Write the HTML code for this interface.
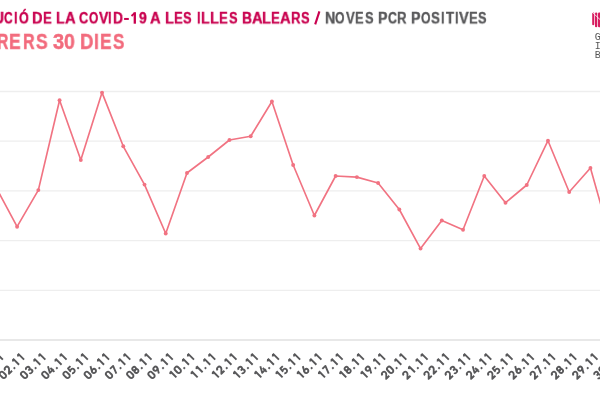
<!DOCTYPE html>
<html><head><meta charset="utf-8"><style>
html,body{margin:0;padding:0;background:#fff;width:600px;height:400px;overflow:hidden;position:relative}
span{position:absolute;white-space:pre;font-family:"Liberation Sans",sans-serif;font-weight:bold;line-height:1;transform-origin:0 0;will-change:transform}
.lab path,.lab circle{fill:none;stroke:#58585a;stroke-width:1.8px;stroke-linecap:butt;stroke-linejoin:round}
.gib{position:absolute;font-family:"Liberation Mono",monospace;font-size:10px;line-height:9px;color:#555}
</style></head><body>
<span style="left:-7.41px;top:11.37px;font-size:16px;color:#c9004f;transform:scale(0.9579,0.955);-webkit-text-stroke:0.4px #c9004f">U</span>
<span style="left:4.29px;top:11.37px;font-size:16px;color:#c9004f;transform:scale(0.7512,0.955);-webkit-text-stroke:0.4px #c9004f">C</span>
<span style="left:14.24px;top:11.37px;font-size:16px;color:#c9004f;transform:scale(0.7800,0.955);-webkit-text-stroke:0.4px #c9004f">I</span>
<span style="left:18.66px;top:11.37px;font-size:16px;color:#c9004f;transform:scale(0.7818,0.955);-webkit-text-stroke:0.4px #c9004f">Ó</span>
<span style="left:32.39px;top:11.37px;font-size:16px;color:#c9004f;transform:scale(0.9128,0.955);-webkit-text-stroke:0.4px #c9004f">D</span>
<span style="left:43.23px;top:11.37px;font-size:16px;color:#c9004f;transform:scale(0.8222,0.955);-webkit-text-stroke:0.4px #c9004f">E</span>
<span style="left:56.18px;top:11.37px;font-size:16px;color:#c9004f;transform:scale(0.8667,0.955);-webkit-text-stroke:0.4px #c9004f">L</span>
<span style="left:64.59px;top:11.37px;font-size:16px;color:#c9004f;transform:scale(0.9190,0.955);-webkit-text-stroke:0.4px #c9004f">A</span>
<span style="left:78.95px;top:11.37px;font-size:16px;color:#c9004f;transform:scale(0.7951,0.955);-webkit-text-stroke:0.4px #c9004f">C</span>
<span style="left:88.99px;top:11.37px;font-size:16px;color:#c9004f;transform:scale(0.7409,0.955);-webkit-text-stroke:0.4px #c9004f">O</span>
<span style="left:98.58px;top:11.37px;font-size:16px;color:#c9004f;transform:scale(0.8683,0.955);-webkit-text-stroke:0.4px #c9004f">V</span>
<span style="left:108.47px;top:11.37px;font-size:16px;color:#c9004f;transform:scale(0.7800,0.955);-webkit-text-stroke:0.4px #c9004f">I</span>
<span style="left:113.19px;top:11.37px;font-size:16px;color:#c9004f;transform:scale(0.8615,0.955);-webkit-text-stroke:0.4px #c9004f">D</span>
<span style="left:138.82px;top:11.37px;font-size:16px;color:#c9004f;transform:scale(0.8645,0.955);-webkit-text-stroke:0.4px #c9004f">9</span>
<span style="left:150.34px;top:11.37px;font-size:16px;color:#c9004f;transform:scale(0.9190,0.955);-webkit-text-stroke:0.4px #c9004f">A</span>
<span style="left:164.65px;top:11.37px;font-size:16px;color:#c9004f;transform:scale(0.8970,0.955);-webkit-text-stroke:0.4px #c9004f">L</span>
<span style="left:173.98px;top:11.37px;font-size:16px;color:#c9004f;transform:scale(0.8222,0.955);-webkit-text-stroke:0.4px #c9004f">E</span>
<span style="left:183.40px;top:11.37px;font-size:16px;color:#c9004f;transform:scale(0.8053,0.955);-webkit-text-stroke:0.4px #c9004f">S</span>
<span style="left:196.72px;top:11.37px;font-size:16px;color:#c9004f;transform:scale(0.7800,0.955);-webkit-text-stroke:0.4px #c9004f">I</span>
<span style="left:201.18px;top:11.37px;font-size:16px;color:#c9004f;transform:scale(0.8667,0.955);-webkit-text-stroke:0.4px #c9004f">L</span>
<span style="left:210.15px;top:11.37px;font-size:16px;color:#c9004f;transform:scale(0.8970,0.955);-webkit-text-stroke:0.4px #c9004f">L</span>
<span style="left:219.48px;top:11.37px;font-size:16px;color:#c9004f;transform:scale(0.8222,0.955);-webkit-text-stroke:0.4px #c9004f">E</span>
<span style="left:228.90px;top:11.37px;font-size:16px;color:#c9004f;transform:scale(0.8053,0.955);-webkit-text-stroke:0.4px #c9004f">S</span>
<span style="left:241.94px;top:11.37px;font-size:16px;color:#c9004f;transform:scale(0.8615,0.955);-webkit-text-stroke:0.4px #c9004f">B</span>
<span style="left:251.59px;top:11.37px;font-size:16px;color:#c9004f;transform:scale(0.9190,0.955);-webkit-text-stroke:0.4px #c9004f">A</span>
<span style="left:262.40px;top:11.37px;font-size:16px;color:#c9004f;transform:scale(0.8970,0.955);-webkit-text-stroke:0.4px #c9004f">L</span>
<span style="left:271.48px;top:11.37px;font-size:16px;color:#c9004f;transform:scale(0.8222,0.955);-webkit-text-stroke:0.4px #c9004f">E</span>
<span style="left:280.34px;top:11.37px;font-size:16px;color:#c9004f;transform:scale(0.9190,0.955);-webkit-text-stroke:0.4px #c9004f">A</span>
<span style="left:291.23px;top:11.37px;font-size:16px;color:#c9004f;transform:scale(0.8195,0.955);-webkit-text-stroke:0.4px #c9004f">R</span>
<span style="left:301.40px;top:11.37px;font-size:16px;color:#c9004f;transform:scale(0.8053,0.955);-webkit-text-stroke:0.4px #c9004f">S</span>
<span style="left:324.67px;top:11.37px;font-size:16px;color:#58585a;transform:scale(0.8842,0.955);-webkit-text-stroke:0.4px #58585a">N</span>
<span style="left:335.48px;top:11.37px;font-size:16px;color:#58585a;transform:scale(0.7636,0.955);-webkit-text-stroke:0.4px #58585a">O</span>
<span style="left:345.60px;top:11.37px;font-size:16px;color:#58585a;transform:scale(0.8195,0.955);-webkit-text-stroke:0.4px #58585a">V</span>
<span style="left:355.26px;top:11.37px;font-size:16px;color:#58585a;transform:scale(0.7944,0.955);-webkit-text-stroke:0.4px #58585a">E</span>
<span style="left:364.65px;top:11.37px;font-size:16px;color:#58585a;transform:scale(0.8053,0.955);-webkit-text-stroke:0.4px #58585a">S</span>
<span style="left:377.67px;top:11.37px;font-size:16px;color:#58585a;transform:scale(0.8778,0.955);-webkit-text-stroke:0.4px #58585a">P</span>
<span style="left:387.72px;top:11.37px;font-size:16px;color:#58585a;transform:scale(0.7707,0.955);-webkit-text-stroke:0.4px #58585a">C</span>
<span style="left:397.48px;top:11.37px;font-size:16px;color:#58585a;transform:scale(0.8195,0.955);-webkit-text-stroke:0.4px #58585a">R</span>
<span style="left:411.42px;top:11.37px;font-size:16px;color:#58585a;transform:scale(0.8778,0.955);-webkit-text-stroke:0.4px #58585a">P</span>
<span style="left:421.48px;top:11.37px;font-size:16px;color:#58585a;transform:scale(0.7636,0.955);-webkit-text-stroke:0.4px #58585a">O</span>
<span style="left:431.38px;top:11.37px;font-size:16px;color:#58585a;transform:scale(0.8316,0.955);-webkit-text-stroke:0.4px #58585a">S</span>
<span style="left:441.34px;top:11.37px;font-size:16px;color:#58585a;transform:scale(0.7800,0.955);-webkit-text-stroke:0.4px #58585a">I</span>
<span style="left:445.59px;top:11.37px;font-size:16px;color:#58585a;transform:scale(0.8270,0.955);-webkit-text-stroke:0.4px #58585a">T</span>
<span style="left:454.94px;top:11.37px;font-size:16px;color:#58585a;transform:scale(0.7800,0.955);-webkit-text-stroke:0.4px #58585a">I</span>
<span style="left:458.62px;top:11.37px;font-size:16px;color:#58585a;transform:scale(0.9073,0.955);-webkit-text-stroke:0.4px #58585a">V</span>
<span style="left:468.84px;top:11.37px;font-size:16px;color:#58585a;transform:scale(0.8111,0.955);-webkit-text-stroke:0.4px #58585a">E</span>
<span style="left:478.36px;top:11.37px;font-size:16px;color:#58585a;transform:scale(0.7895,0.955);-webkit-text-stroke:0.4px #58585a">S</span>
<span style="left:-2.89px;top:30.77px;font-size:20px;color:#f26b7d;transform:scale(0.7922,1.08);-webkit-text-stroke:0.4px #f26b7d">R</span>
<span style="left:9.41px;top:30.77px;font-size:20px;color:#f26b7d;transform:scale(0.8711,1.08);-webkit-text-stroke:0.4px #f26b7d">E</span>
<span style="left:22.85px;top:30.77px;font-size:20px;color:#f26b7d;transform:scale(0.8039,1.08);-webkit-text-stroke:0.4px #f26b7d">R</span>
<span style="left:35.70px;top:30.77px;font-size:20px;color:#f26b7d;transform:scale(0.8723,1.08);-webkit-text-stroke:0.4px #f26b7d">S</span>
<span style="left:52.60px;top:30.77px;font-size:20px;color:#f26b7d;transform:scale(1.0000,1.08);-webkit-text-stroke:0.4px #f26b7d">3</span>
<span style="left:64.17px;top:30.77px;font-size:20px;color:#f26b7d;transform:scale(0.9684,1.08);-webkit-text-stroke:0.4px #f26b7d">0</span>
<span style="left:79.94px;top:30.77px;font-size:20px;color:#f26b7d;transform:scale(0.9306,1.08);-webkit-text-stroke:0.4px #f26b7d">D</span>
<span style="left:94.11px;top:30.77px;font-size:20px;color:#f26b7d;transform:scale(0.8500,1.08);-webkit-text-stroke:0.4px #f26b7d">I</span>
<span style="left:100.32px;top:30.77px;font-size:20px;color:#f26b7d;transform:scale(0.8622,1.08);-webkit-text-stroke:0.4px #f26b7d">E</span>
<span style="left:112.56px;top:30.77px;font-size:20px;color:#f26b7d;transform:scale(0.8511,1.08);-webkit-text-stroke:0.4px #f26b7d">S</span>

<svg style="position:absolute;left:0;top:0" width="600" height="400">
<line x1="0" x2="600" y1="91.5" y2="91.5" stroke="#eeeeee" stroke-width="1.3"/>
<line x1="0" x2="600" y1="141.2" y2="141.2" stroke="#eeeeee" stroke-width="1.3"/>
<line x1="0" x2="600" y1="190.9" y2="190.9" stroke="#eeeeee" stroke-width="1.3"/>
<line x1="0" x2="600" y1="240.6" y2="240.6" stroke="#eeeeee" stroke-width="1.3"/>
<line x1="0" x2="600" y1="290.3" y2="290.3" stroke="#eeeeee" stroke-width="1.3"/>
<line x1="0" x2="600" y1="340" y2="340" stroke="#e0e0e0" stroke-width="1.6"/>
<polyline points="-4.13,187 17.10,226.7 38.34,190.1 59.57,100.3 80.81,160 102.04,92.6 123.28,146.3 144.51,184.6 165.74,233.5 186.98,173 208.22,157 229.45,140 250.68,136.3 271.92,101.5 293.16,165 314.39,215.5 335.62,176 356.86,177.1 378.10,183 399.33,209.5 420.56,248.6 441.80,220.5 463.04,229.7 484.27,176 505.50,202.7 526.74,185 547.98,140.7 569.21,192 590.45,168 611.68,243" fill="none" stroke="#f17382" stroke-width="1.65" stroke-linejoin="round"/>
<circle cx="-4.13" cy="187" r="1.95" fill="#f17382"/>
<circle cx="17.10" cy="226.7" r="1.95" fill="#f17382"/>
<circle cx="38.34" cy="190.1" r="1.95" fill="#f17382"/>
<circle cx="59.57" cy="100.3" r="1.95" fill="#f17382"/>
<circle cx="80.81" cy="160" r="1.95" fill="#f17382"/>
<circle cx="102.04" cy="92.6" r="1.95" fill="#f17382"/>
<circle cx="123.28" cy="146.3" r="1.95" fill="#f17382"/>
<circle cx="144.51" cy="184.6" r="1.95" fill="#f17382"/>
<circle cx="165.74" cy="233.5" r="1.95" fill="#f17382"/>
<circle cx="186.98" cy="173" r="1.95" fill="#f17382"/>
<circle cx="208.22" cy="157" r="1.95" fill="#f17382"/>
<circle cx="229.45" cy="140" r="1.95" fill="#f17382"/>
<circle cx="250.68" cy="136.3" r="1.95" fill="#f17382"/>
<circle cx="271.92" cy="101.5" r="1.95" fill="#f17382"/>
<circle cx="293.16" cy="165" r="1.95" fill="#f17382"/>
<circle cx="314.39" cy="215.5" r="1.95" fill="#f17382"/>
<circle cx="335.62" cy="176" r="1.95" fill="#f17382"/>
<circle cx="356.86" cy="177.1" r="1.95" fill="#f17382"/>
<circle cx="378.10" cy="183" r="1.95" fill="#f17382"/>
<circle cx="399.33" cy="209.5" r="1.95" fill="#f17382"/>
<circle cx="420.56" cy="248.6" r="1.95" fill="#f17382"/>
<circle cx="441.80" cy="220.5" r="1.95" fill="#f17382"/>
<circle cx="463.04" cy="229.7" r="1.95" fill="#f17382"/>
<circle cx="484.27" cy="176" r="1.95" fill="#f17382"/>
<circle cx="505.50" cy="202.7" r="1.95" fill="#f17382"/>
<circle cx="526.74" cy="185" r="1.95" fill="#f17382"/>
<circle cx="547.98" cy="140.7" r="1.95" fill="#f17382"/>
<circle cx="569.21" cy="192" r="1.95" fill="#f17382"/>
<circle cx="590.45" cy="168" r="1.95" fill="#f17382"/>
<circle cx="611.68" cy="243" r="1.95" fill="#f17382"/>
<g class="lab" transform="translate(2.87 359.70) rotate(-45) scale(1.0) translate(-29.35 0)"><g transform="translate(0.00 0) scale(1.06 1)"><path d="M1.4,-5.8 A2.0,2.0 0 0 1 5.4,-5.8 L5.4,-2.7 A2.0,2.0 0 0 1 1.4,-2.7 Z"/></g><g transform="translate(7.10 0) scale(1.06 1)"><path d="M2.2,-6.6 L4.0,-8.2 M4.2,-8.6 L4.2,0"/></g><rect x="15.60" y="-1.9" width="1.9" height="1.9" fill="#58585a" stroke="none"/><g transform="translate(17.80 0) scale(1.06 1)"><path d="M2.2,-6.6 L4.0,-8.2 M4.2,-8.6 L4.2,0"/></g><g transform="translate(24.90 0) scale(1.06 1)"><path d="M2.2,-6.6 L4.0,-8.2 M4.2,-8.6 L4.2,0"/></g></g>
<g class="lab" transform="translate(24.10 359.70) rotate(-45) scale(1.0) translate(-29.35 0)"><g transform="translate(0.00 0) scale(1.06 1)"><path d="M1.4,-5.8 A2.0,2.0 0 0 1 5.4,-5.8 L5.4,-2.7 A2.0,2.0 0 0 1 1.4,-2.7 Z"/></g><g transform="translate(7.10 0) scale(1.06 1)"><path d="M1.4,-5.8 A2.0,2.0 0 0 1 5.4,-5.8 Q5.4,-4.9 4.7,-4.0 L1.5,-0.7 L5.6,-0.7"/></g><rect x="15.60" y="-1.9" width="1.9" height="1.9" fill="#58585a" stroke="none"/><g transform="translate(17.80 0) scale(1.06 1)"><path d="M2.2,-6.6 L4.0,-8.2 M4.2,-8.6 L4.2,0"/></g><g transform="translate(24.90 0) scale(1.06 1)"><path d="M2.2,-6.6 L4.0,-8.2 M4.2,-8.6 L4.2,0"/></g></g>
<g class="lab" transform="translate(45.34 359.70) rotate(-45) scale(1.0) translate(-29.35 0)"><g transform="translate(0.00 0) scale(1.06 1)"><path d="M1.4,-5.8 A2.0,2.0 0 0 1 5.4,-5.8 L5.4,-2.7 A2.0,2.0 0 0 1 1.4,-2.7 Z"/></g><g transform="translate(7.10 0) scale(1.06 1)"><path d="M1.6,-6.4 A1.8,1.75 0 1 1 3.2,-4.35 A1.95,1.95 0 1 1 1.4,-1.9"/></g><rect x="15.60" y="-1.9" width="1.9" height="1.9" fill="#58585a" stroke="none"/><g transform="translate(17.80 0) scale(1.06 1)"><path d="M2.2,-6.6 L4.0,-8.2 M4.2,-8.6 L4.2,0"/></g><g transform="translate(24.90 0) scale(1.06 1)"><path d="M2.2,-6.6 L4.0,-8.2 M4.2,-8.6 L4.2,0"/></g></g>
<g class="lab" transform="translate(66.57 359.70) rotate(-45) scale(1.0) translate(-29.35 0)"><g transform="translate(0.00 0) scale(1.06 1)"><path d="M1.4,-5.8 A2.0,2.0 0 0 1 5.4,-5.8 L5.4,-2.7 A2.0,2.0 0 0 1 1.4,-2.7 Z"/></g><g transform="translate(7.10 0) scale(1.06 1)"><path d="M4.2,-8.5 L1.1,-2.6 L6.0,-2.6 M4.7,-5.6 L4.7,0"/></g><rect x="15.60" y="-1.9" width="1.9" height="1.9" fill="#58585a" stroke="none"/><g transform="translate(17.80 0) scale(1.06 1)"><path d="M2.2,-6.6 L4.0,-8.2 M4.2,-8.6 L4.2,0"/></g><g transform="translate(24.90 0) scale(1.06 1)"><path d="M2.2,-6.6 L4.0,-8.2 M4.2,-8.6 L4.2,0"/></g></g>
<g class="lab" transform="translate(87.81 359.70) rotate(-45) scale(1.0) translate(-29.35 0)"><g transform="translate(0.00 0) scale(1.06 1)"><path d="M1.4,-5.8 A2.0,2.0 0 0 1 5.4,-5.8 L5.4,-2.7 A2.0,2.0 0 0 1 1.4,-2.7 Z"/></g><g transform="translate(7.10 0) scale(1.06 1)"><path d="M5.2,-7.8 L1.9,-7.8 L1.6,-4.3 Q2.4,-5.0 3.4,-5.0 A1.95,2.15 0 0 1 3.4,-0.7 Q2.1,-0.7 1.4,-1.6"/></g><rect x="15.60" y="-1.9" width="1.9" height="1.9" fill="#58585a" stroke="none"/><g transform="translate(17.80 0) scale(1.06 1)"><path d="M2.2,-6.6 L4.0,-8.2 M4.2,-8.6 L4.2,0"/></g><g transform="translate(24.90 0) scale(1.06 1)"><path d="M2.2,-6.6 L4.0,-8.2 M4.2,-8.6 L4.2,0"/></g></g>
<g class="lab" transform="translate(109.04 359.70) rotate(-45) scale(1.0) translate(-29.35 0)"><g transform="translate(0.00 0) scale(1.06 1)"><path d="M1.4,-5.8 A2.0,2.0 0 0 1 5.4,-5.8 L5.4,-2.7 A2.0,2.0 0 0 1 1.4,-2.7 Z"/></g><g transform="translate(7.10 0) scale(1.06 1)"><path d="M4.3,-8.6 L1.7,-3.6"/><circle cx="3.4" cy="-2.7" r="2.0"/></g><rect x="15.60" y="-1.9" width="1.9" height="1.9" fill="#58585a" stroke="none"/><g transform="translate(17.80 0) scale(1.06 1)"><path d="M2.2,-6.6 L4.0,-8.2 M4.2,-8.6 L4.2,0"/></g><g transform="translate(24.90 0) scale(1.06 1)"><path d="M2.2,-6.6 L4.0,-8.2 M4.2,-8.6 L4.2,0"/></g></g>
<g class="lab" transform="translate(130.28 359.70) rotate(-45) scale(1.0) translate(-29.35 0)"><g transform="translate(0.00 0) scale(1.06 1)"><path d="M1.4,-5.8 A2.0,2.0 0 0 1 5.4,-5.8 L5.4,-2.7 A2.0,2.0 0 0 1 1.4,-2.7 Z"/></g><g transform="translate(7.10 0) scale(1.06 1)"><path d="M1.3,-7.8 L5.4,-7.8 L2.4,0"/></g><rect x="15.60" y="-1.9" width="1.9" height="1.9" fill="#58585a" stroke="none"/><g transform="translate(17.80 0) scale(1.06 1)"><path d="M2.2,-6.6 L4.0,-8.2 M4.2,-8.6 L4.2,0"/></g><g transform="translate(24.90 0) scale(1.06 1)"><path d="M2.2,-6.6 L4.0,-8.2 M4.2,-8.6 L4.2,0"/></g></g>
<g class="lab" transform="translate(151.51 359.70) rotate(-45) scale(1.0) translate(-29.35 0)"><g transform="translate(0.00 0) scale(1.06 1)"><path d="M1.4,-5.8 A2.0,2.0 0 0 1 5.4,-5.8 L5.4,-2.7 A2.0,2.0 0 0 1 1.4,-2.7 Z"/></g><g transform="translate(7.10 0) scale(1.06 1)"><circle cx="3.4" cy="-5.95" r="1.75"/><circle cx="3.4" cy="-2.55" r="1.85"/></g><rect x="15.60" y="-1.9" width="1.9" height="1.9" fill="#58585a" stroke="none"/><g transform="translate(17.80 0) scale(1.06 1)"><path d="M2.2,-6.6 L4.0,-8.2 M4.2,-8.6 L4.2,0"/></g><g transform="translate(24.90 0) scale(1.06 1)"><path d="M2.2,-6.6 L4.0,-8.2 M4.2,-8.6 L4.2,0"/></g></g>
<g class="lab" transform="translate(172.74 359.70) rotate(-45) scale(1.0) translate(-29.35 0)"><g transform="translate(0.00 0) scale(1.06 1)"><path d="M1.4,-5.8 A2.0,2.0 0 0 1 5.4,-5.8 L5.4,-2.7 A2.0,2.0 0 0 1 1.4,-2.7 Z"/></g><g transform="translate(7.10 0) scale(1.06 1)"><circle cx="3.4" cy="-5.8" r="2.0"/><path d="M5.1,-4.8 L2.5,0"/></g><rect x="15.60" y="-1.9" width="1.9" height="1.9" fill="#58585a" stroke="none"/><g transform="translate(17.80 0) scale(1.06 1)"><path d="M2.2,-6.6 L4.0,-8.2 M4.2,-8.6 L4.2,0"/></g><g transform="translate(24.90 0) scale(1.06 1)"><path d="M2.2,-6.6 L4.0,-8.2 M4.2,-8.6 L4.2,0"/></g></g>
<g class="lab" transform="translate(193.98 359.70) rotate(-45) scale(1.0) translate(-29.35 0)"><g transform="translate(0.00 0) scale(1.06 1)"><path d="M2.2,-6.6 L4.0,-8.2 M4.2,-8.6 L4.2,0"/></g><g transform="translate(7.10 0) scale(1.06 1)"><path d="M1.4,-5.8 A2.0,2.0 0 0 1 5.4,-5.8 L5.4,-2.7 A2.0,2.0 0 0 1 1.4,-2.7 Z"/></g><rect x="15.60" y="-1.9" width="1.9" height="1.9" fill="#58585a" stroke="none"/><g transform="translate(17.80 0) scale(1.06 1)"><path d="M2.2,-6.6 L4.0,-8.2 M4.2,-8.6 L4.2,0"/></g><g transform="translate(24.90 0) scale(1.06 1)"><path d="M2.2,-6.6 L4.0,-8.2 M4.2,-8.6 L4.2,0"/></g></g>
<g class="lab" transform="translate(215.22 359.70) rotate(-45) scale(1.0) translate(-29.35 0)"><g transform="translate(0.00 0) scale(1.06 1)"><path d="M2.2,-6.6 L4.0,-8.2 M4.2,-8.6 L4.2,0"/></g><g transform="translate(7.10 0) scale(1.06 1)"><path d="M2.2,-6.6 L4.0,-8.2 M4.2,-8.6 L4.2,0"/></g><rect x="15.60" y="-1.9" width="1.9" height="1.9" fill="#58585a" stroke="none"/><g transform="translate(17.80 0) scale(1.06 1)"><path d="M2.2,-6.6 L4.0,-8.2 M4.2,-8.6 L4.2,0"/></g><g transform="translate(24.90 0) scale(1.06 1)"><path d="M2.2,-6.6 L4.0,-8.2 M4.2,-8.6 L4.2,0"/></g></g>
<g class="lab" transform="translate(236.45 359.70) rotate(-45) scale(1.0) translate(-29.35 0)"><g transform="translate(0.00 0) scale(1.06 1)"><path d="M2.2,-6.6 L4.0,-8.2 M4.2,-8.6 L4.2,0"/></g><g transform="translate(7.10 0) scale(1.06 1)"><path d="M1.4,-5.8 A2.0,2.0 0 0 1 5.4,-5.8 Q5.4,-4.9 4.7,-4.0 L1.5,-0.7 L5.6,-0.7"/></g><rect x="15.60" y="-1.9" width="1.9" height="1.9" fill="#58585a" stroke="none"/><g transform="translate(17.80 0) scale(1.06 1)"><path d="M2.2,-6.6 L4.0,-8.2 M4.2,-8.6 L4.2,0"/></g><g transform="translate(24.90 0) scale(1.06 1)"><path d="M2.2,-6.6 L4.0,-8.2 M4.2,-8.6 L4.2,0"/></g></g>
<g class="lab" transform="translate(257.68 359.70) rotate(-45) scale(1.0) translate(-29.35 0)"><g transform="translate(0.00 0) scale(1.06 1)"><path d="M2.2,-6.6 L4.0,-8.2 M4.2,-8.6 L4.2,0"/></g><g transform="translate(7.10 0) scale(1.06 1)"><path d="M1.6,-6.4 A1.8,1.75 0 1 1 3.2,-4.35 A1.95,1.95 0 1 1 1.4,-1.9"/></g><rect x="15.60" y="-1.9" width="1.9" height="1.9" fill="#58585a" stroke="none"/><g transform="translate(17.80 0) scale(1.06 1)"><path d="M2.2,-6.6 L4.0,-8.2 M4.2,-8.6 L4.2,0"/></g><g transform="translate(24.90 0) scale(1.06 1)"><path d="M2.2,-6.6 L4.0,-8.2 M4.2,-8.6 L4.2,0"/></g></g>
<g class="lab" transform="translate(278.92 359.70) rotate(-45) scale(1.0) translate(-29.35 0)"><g transform="translate(0.00 0) scale(1.06 1)"><path d="M2.2,-6.6 L4.0,-8.2 M4.2,-8.6 L4.2,0"/></g><g transform="translate(7.10 0) scale(1.06 1)"><path d="M4.2,-8.5 L1.1,-2.6 L6.0,-2.6 M4.7,-5.6 L4.7,0"/></g><rect x="15.60" y="-1.9" width="1.9" height="1.9" fill="#58585a" stroke="none"/><g transform="translate(17.80 0) scale(1.06 1)"><path d="M2.2,-6.6 L4.0,-8.2 M4.2,-8.6 L4.2,0"/></g><g transform="translate(24.90 0) scale(1.06 1)"><path d="M2.2,-6.6 L4.0,-8.2 M4.2,-8.6 L4.2,0"/></g></g>
<g class="lab" transform="translate(300.16 359.70) rotate(-45) scale(1.0) translate(-29.35 0)"><g transform="translate(0.00 0) scale(1.06 1)"><path d="M2.2,-6.6 L4.0,-8.2 M4.2,-8.6 L4.2,0"/></g><g transform="translate(7.10 0) scale(1.06 1)"><path d="M5.2,-7.8 L1.9,-7.8 L1.6,-4.3 Q2.4,-5.0 3.4,-5.0 A1.95,2.15 0 0 1 3.4,-0.7 Q2.1,-0.7 1.4,-1.6"/></g><rect x="15.60" y="-1.9" width="1.9" height="1.9" fill="#58585a" stroke="none"/><g transform="translate(17.80 0) scale(1.06 1)"><path d="M2.2,-6.6 L4.0,-8.2 M4.2,-8.6 L4.2,0"/></g><g transform="translate(24.90 0) scale(1.06 1)"><path d="M2.2,-6.6 L4.0,-8.2 M4.2,-8.6 L4.2,0"/></g></g>
<g class="lab" transform="translate(321.39 359.70) rotate(-45) scale(1.0) translate(-29.35 0)"><g transform="translate(0.00 0) scale(1.06 1)"><path d="M2.2,-6.6 L4.0,-8.2 M4.2,-8.6 L4.2,0"/></g><g transform="translate(7.10 0) scale(1.06 1)"><path d="M4.3,-8.6 L1.7,-3.6"/><circle cx="3.4" cy="-2.7" r="2.0"/></g><rect x="15.60" y="-1.9" width="1.9" height="1.9" fill="#58585a" stroke="none"/><g transform="translate(17.80 0) scale(1.06 1)"><path d="M2.2,-6.6 L4.0,-8.2 M4.2,-8.6 L4.2,0"/></g><g transform="translate(24.90 0) scale(1.06 1)"><path d="M2.2,-6.6 L4.0,-8.2 M4.2,-8.6 L4.2,0"/></g></g>
<g class="lab" transform="translate(342.62 359.70) rotate(-45) scale(1.0) translate(-29.35 0)"><g transform="translate(0.00 0) scale(1.06 1)"><path d="M2.2,-6.6 L4.0,-8.2 M4.2,-8.6 L4.2,0"/></g><g transform="translate(7.10 0) scale(1.06 1)"><path d="M1.3,-7.8 L5.4,-7.8 L2.4,0"/></g><rect x="15.60" y="-1.9" width="1.9" height="1.9" fill="#58585a" stroke="none"/><g transform="translate(17.80 0) scale(1.06 1)"><path d="M2.2,-6.6 L4.0,-8.2 M4.2,-8.6 L4.2,0"/></g><g transform="translate(24.90 0) scale(1.06 1)"><path d="M2.2,-6.6 L4.0,-8.2 M4.2,-8.6 L4.2,0"/></g></g>
<g class="lab" transform="translate(363.86 359.70) rotate(-45) scale(1.0) translate(-29.35 0)"><g transform="translate(0.00 0) scale(1.06 1)"><path d="M2.2,-6.6 L4.0,-8.2 M4.2,-8.6 L4.2,0"/></g><g transform="translate(7.10 0) scale(1.06 1)"><circle cx="3.4" cy="-5.95" r="1.75"/><circle cx="3.4" cy="-2.55" r="1.85"/></g><rect x="15.60" y="-1.9" width="1.9" height="1.9" fill="#58585a" stroke="none"/><g transform="translate(17.80 0) scale(1.06 1)"><path d="M2.2,-6.6 L4.0,-8.2 M4.2,-8.6 L4.2,0"/></g><g transform="translate(24.90 0) scale(1.06 1)"><path d="M2.2,-6.6 L4.0,-8.2 M4.2,-8.6 L4.2,0"/></g></g>
<g class="lab" transform="translate(385.10 359.70) rotate(-45) scale(1.0) translate(-29.35 0)"><g transform="translate(0.00 0) scale(1.06 1)"><path d="M2.2,-6.6 L4.0,-8.2 M4.2,-8.6 L4.2,0"/></g><g transform="translate(7.10 0) scale(1.06 1)"><circle cx="3.4" cy="-5.8" r="2.0"/><path d="M5.1,-4.8 L2.5,0"/></g><rect x="15.60" y="-1.9" width="1.9" height="1.9" fill="#58585a" stroke="none"/><g transform="translate(17.80 0) scale(1.06 1)"><path d="M2.2,-6.6 L4.0,-8.2 M4.2,-8.6 L4.2,0"/></g><g transform="translate(24.90 0) scale(1.06 1)"><path d="M2.2,-6.6 L4.0,-8.2 M4.2,-8.6 L4.2,0"/></g></g>
<g class="lab" transform="translate(406.33 359.70) rotate(-45) scale(1.0) translate(-29.35 0)"><g transform="translate(0.00 0) scale(1.06 1)"><path d="M1.4,-5.8 A2.0,2.0 0 0 1 5.4,-5.8 Q5.4,-4.9 4.7,-4.0 L1.5,-0.7 L5.6,-0.7"/></g><g transform="translate(7.10 0) scale(1.06 1)"><path d="M1.4,-5.8 A2.0,2.0 0 0 1 5.4,-5.8 L5.4,-2.7 A2.0,2.0 0 0 1 1.4,-2.7 Z"/></g><rect x="15.60" y="-1.9" width="1.9" height="1.9" fill="#58585a" stroke="none"/><g transform="translate(17.80 0) scale(1.06 1)"><path d="M2.2,-6.6 L4.0,-8.2 M4.2,-8.6 L4.2,0"/></g><g transform="translate(24.90 0) scale(1.06 1)"><path d="M2.2,-6.6 L4.0,-8.2 M4.2,-8.6 L4.2,0"/></g></g>
<g class="lab" transform="translate(427.56 359.70) rotate(-45) scale(1.0) translate(-29.35 0)"><g transform="translate(0.00 0) scale(1.06 1)"><path d="M1.4,-5.8 A2.0,2.0 0 0 1 5.4,-5.8 Q5.4,-4.9 4.7,-4.0 L1.5,-0.7 L5.6,-0.7"/></g><g transform="translate(7.10 0) scale(1.06 1)"><path d="M2.2,-6.6 L4.0,-8.2 M4.2,-8.6 L4.2,0"/></g><rect x="15.60" y="-1.9" width="1.9" height="1.9" fill="#58585a" stroke="none"/><g transform="translate(17.80 0) scale(1.06 1)"><path d="M2.2,-6.6 L4.0,-8.2 M4.2,-8.6 L4.2,0"/></g><g transform="translate(24.90 0) scale(1.06 1)"><path d="M2.2,-6.6 L4.0,-8.2 M4.2,-8.6 L4.2,0"/></g></g>
<g class="lab" transform="translate(448.80 359.70) rotate(-45) scale(1.0) translate(-29.35 0)"><g transform="translate(0.00 0) scale(1.06 1)"><path d="M1.4,-5.8 A2.0,2.0 0 0 1 5.4,-5.8 Q5.4,-4.9 4.7,-4.0 L1.5,-0.7 L5.6,-0.7"/></g><g transform="translate(7.10 0) scale(1.06 1)"><path d="M1.4,-5.8 A2.0,2.0 0 0 1 5.4,-5.8 Q5.4,-4.9 4.7,-4.0 L1.5,-0.7 L5.6,-0.7"/></g><rect x="15.60" y="-1.9" width="1.9" height="1.9" fill="#58585a" stroke="none"/><g transform="translate(17.80 0) scale(1.06 1)"><path d="M2.2,-6.6 L4.0,-8.2 M4.2,-8.6 L4.2,0"/></g><g transform="translate(24.90 0) scale(1.06 1)"><path d="M2.2,-6.6 L4.0,-8.2 M4.2,-8.6 L4.2,0"/></g></g>
<g class="lab" transform="translate(470.04 359.70) rotate(-45) scale(1.0) translate(-29.35 0)"><g transform="translate(0.00 0) scale(1.06 1)"><path d="M1.4,-5.8 A2.0,2.0 0 0 1 5.4,-5.8 Q5.4,-4.9 4.7,-4.0 L1.5,-0.7 L5.6,-0.7"/></g><g transform="translate(7.10 0) scale(1.06 1)"><path d="M1.6,-6.4 A1.8,1.75 0 1 1 3.2,-4.35 A1.95,1.95 0 1 1 1.4,-1.9"/></g><rect x="15.60" y="-1.9" width="1.9" height="1.9" fill="#58585a" stroke="none"/><g transform="translate(17.80 0) scale(1.06 1)"><path d="M2.2,-6.6 L4.0,-8.2 M4.2,-8.6 L4.2,0"/></g><g transform="translate(24.90 0) scale(1.06 1)"><path d="M2.2,-6.6 L4.0,-8.2 M4.2,-8.6 L4.2,0"/></g></g>
<g class="lab" transform="translate(491.27 359.70) rotate(-45) scale(1.0) translate(-29.35 0)"><g transform="translate(0.00 0) scale(1.06 1)"><path d="M1.4,-5.8 A2.0,2.0 0 0 1 5.4,-5.8 Q5.4,-4.9 4.7,-4.0 L1.5,-0.7 L5.6,-0.7"/></g><g transform="translate(7.10 0) scale(1.06 1)"><path d="M4.2,-8.5 L1.1,-2.6 L6.0,-2.6 M4.7,-5.6 L4.7,0"/></g><rect x="15.60" y="-1.9" width="1.9" height="1.9" fill="#58585a" stroke="none"/><g transform="translate(17.80 0) scale(1.06 1)"><path d="M2.2,-6.6 L4.0,-8.2 M4.2,-8.6 L4.2,0"/></g><g transform="translate(24.90 0) scale(1.06 1)"><path d="M2.2,-6.6 L4.0,-8.2 M4.2,-8.6 L4.2,0"/></g></g>
<g class="lab" transform="translate(512.50 359.70) rotate(-45) scale(1.0) translate(-29.35 0)"><g transform="translate(0.00 0) scale(1.06 1)"><path d="M1.4,-5.8 A2.0,2.0 0 0 1 5.4,-5.8 Q5.4,-4.9 4.7,-4.0 L1.5,-0.7 L5.6,-0.7"/></g><g transform="translate(7.10 0) scale(1.06 1)"><path d="M5.2,-7.8 L1.9,-7.8 L1.6,-4.3 Q2.4,-5.0 3.4,-5.0 A1.95,2.15 0 0 1 3.4,-0.7 Q2.1,-0.7 1.4,-1.6"/></g><rect x="15.60" y="-1.9" width="1.9" height="1.9" fill="#58585a" stroke="none"/><g transform="translate(17.80 0) scale(1.06 1)"><path d="M2.2,-6.6 L4.0,-8.2 M4.2,-8.6 L4.2,0"/></g><g transform="translate(24.90 0) scale(1.06 1)"><path d="M2.2,-6.6 L4.0,-8.2 M4.2,-8.6 L4.2,0"/></g></g>
<g class="lab" transform="translate(533.74 359.70) rotate(-45) scale(1.0) translate(-29.35 0)"><g transform="translate(0.00 0) scale(1.06 1)"><path d="M1.4,-5.8 A2.0,2.0 0 0 1 5.4,-5.8 Q5.4,-4.9 4.7,-4.0 L1.5,-0.7 L5.6,-0.7"/></g><g transform="translate(7.10 0) scale(1.06 1)"><path d="M4.3,-8.6 L1.7,-3.6"/><circle cx="3.4" cy="-2.7" r="2.0"/></g><rect x="15.60" y="-1.9" width="1.9" height="1.9" fill="#58585a" stroke="none"/><g transform="translate(17.80 0) scale(1.06 1)"><path d="M2.2,-6.6 L4.0,-8.2 M4.2,-8.6 L4.2,0"/></g><g transform="translate(24.90 0) scale(1.06 1)"><path d="M2.2,-6.6 L4.0,-8.2 M4.2,-8.6 L4.2,0"/></g></g>
<g class="lab" transform="translate(554.98 359.70) rotate(-45) scale(1.0) translate(-29.35 0)"><g transform="translate(0.00 0) scale(1.06 1)"><path d="M1.4,-5.8 A2.0,2.0 0 0 1 5.4,-5.8 Q5.4,-4.9 4.7,-4.0 L1.5,-0.7 L5.6,-0.7"/></g><g transform="translate(7.10 0) scale(1.06 1)"><path d="M1.3,-7.8 L5.4,-7.8 L2.4,0"/></g><rect x="15.60" y="-1.9" width="1.9" height="1.9" fill="#58585a" stroke="none"/><g transform="translate(17.80 0) scale(1.06 1)"><path d="M2.2,-6.6 L4.0,-8.2 M4.2,-8.6 L4.2,0"/></g><g transform="translate(24.90 0) scale(1.06 1)"><path d="M2.2,-6.6 L4.0,-8.2 M4.2,-8.6 L4.2,0"/></g></g>
<g class="lab" transform="translate(576.21 359.70) rotate(-45) scale(1.0) translate(-29.35 0)"><g transform="translate(0.00 0) scale(1.06 1)"><path d="M1.4,-5.8 A2.0,2.0 0 0 1 5.4,-5.8 Q5.4,-4.9 4.7,-4.0 L1.5,-0.7 L5.6,-0.7"/></g><g transform="translate(7.10 0) scale(1.06 1)"><circle cx="3.4" cy="-5.95" r="1.75"/><circle cx="3.4" cy="-2.55" r="1.85"/></g><rect x="15.60" y="-1.9" width="1.9" height="1.9" fill="#58585a" stroke="none"/><g transform="translate(17.80 0) scale(1.06 1)"><path d="M2.2,-6.6 L4.0,-8.2 M4.2,-8.6 L4.2,0"/></g><g transform="translate(24.90 0) scale(1.06 1)"><path d="M2.2,-6.6 L4.0,-8.2 M4.2,-8.6 L4.2,0"/></g></g>
<g class="lab" transform="translate(597.45 359.70) rotate(-45) scale(1.0) translate(-29.35 0)"><g transform="translate(0.00 0) scale(1.06 1)"><path d="M1.4,-5.8 A2.0,2.0 0 0 1 5.4,-5.8 Q5.4,-4.9 4.7,-4.0 L1.5,-0.7 L5.6,-0.7"/></g><g transform="translate(7.10 0) scale(1.06 1)"><circle cx="3.4" cy="-5.8" r="2.0"/><path d="M5.1,-4.8 L2.5,0"/></g><rect x="15.60" y="-1.9" width="1.9" height="1.9" fill="#58585a" stroke="none"/><g transform="translate(17.80 0) scale(1.06 1)"><path d="M2.2,-6.6 L4.0,-8.2 M4.2,-8.6 L4.2,0"/></g><g transform="translate(24.90 0) scale(1.06 1)"><path d="M2.2,-6.6 L4.0,-8.2 M4.2,-8.6 L4.2,0"/></g></g>
<g class="lab" transform="translate(618.68 359.70) rotate(-45) scale(1.0) translate(-29.35 0)"><g transform="translate(0.00 0) scale(1.06 1)"><path d="M1.6,-6.4 A1.8,1.75 0 1 1 3.2,-4.35 A1.95,1.95 0 1 1 1.4,-1.9"/></g><g transform="translate(7.10 0) scale(1.06 1)"><path d="M1.4,-5.8 A2.0,2.0 0 0 1 5.4,-5.8 L5.4,-2.7 A2.0,2.0 0 0 1 1.4,-2.7 Z"/></g><rect x="15.60" y="-1.9" width="1.9" height="1.9" fill="#58585a" stroke="none"/><g transform="translate(17.80 0) scale(1.06 1)"><path d="M2.2,-6.6 L4.0,-8.2 M4.2,-8.6 L4.2,0"/></g><g transform="translate(24.90 0) scale(1.06 1)"><path d="M2.2,-6.6 L4.0,-8.2 M4.2,-8.6 L4.2,0"/></g></g>
</svg>
<svg style="position:absolute;left:0;top:0" width="600" height="400">
<g fill="#d71c5f">
<rect x="592.2" y="12.6" width="2.1" height="12.6" rx="1.05"/>
<rect x="595.0" y="12.4" width="2.3" height="14.9" rx="1.15"/>
<rect x="598.0" y="12.4" width="3.5" height="14.9" rx="1.1"/>
</g>
<path d="M592.0 12.0 L600.5 20.0" stroke="#fff" stroke-width="0.8" fill="none"/>
<path d="M315.2 24.4 L319.4 11.4" stroke="#c9004f" stroke-width="2.1" fill="none"/>
<rect x="124.1" y="17.95" width="4.7" height="2.0" fill="#c9004f"/>
<rect x="133.65" y="12.2" width="2.3" height="11.5" fill="#c9004f"/>
<path d="M131.5 16.0 L134.6 13.1" stroke="#c9004f" stroke-width="1.9" fill="none"/>
</svg>
<div class="gib" style="left:594.8px;top:32.6px">G<br>I<br>B</div>

</body></html>
